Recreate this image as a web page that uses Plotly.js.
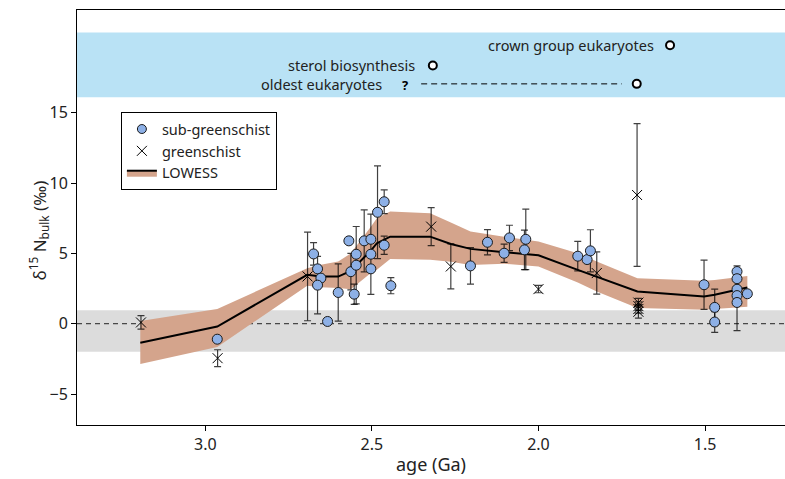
<!DOCTYPE html>
<html>
<head>
<meta charset="utf-8">
<script src="https://cdn.plot.ly/plotly-3.0.1.min.js"></script>
<style>html,body{margin:0;padding:0;background:#fff;}#chart{width:785px;height:479px;}</style>
</head>
<body>
<div id="chart"></div>
<script>
// sub-greenschist samples
const subAge = [2.964, 2.675, 2.663, 2.653, 2.663, 2.633, 2.601, 2.569, 2.563, 2.553, 2.547, 2.547, 2.523, 2.503, 2.503, 2.503, 2.483, 2.463, 2.463, 2.443, 2.204, 2.153, 2.103, 2.087, 2.038, 2.042, 1.882, 1.854, 1.844, 1.503, 1.471, 1.471, 1.404, 1.404, 1.404, 1.404, 1.404, 1.373];
const subVal = [-1.1, 4.96, 3.9, 3.24, 2.74, 0.16, 2.22, 5.89, 3.7, 2.1, 4.94, 4.16, 5.89, 6.0, 4.94, 3.9, 7.92, 8.67, 5.58, 2.7, 4.11, 5.79, 5.01, 6.1, 6.0, 5.25, 4.8, 4.56, 5.18, 2.77, 1.16, 0.12, 3.71, 3.2, 2.45, 2.0, 1.51, 2.13];
const subErr = [0, 0.8, 0, 0, 2.04, 0, 2.03, 0, 1.3, 0.72, 0, 2.75, 2.2, 0, 2.85, 0, 3.3, 0.85, 0.65, 0.57, 1.3, 0.9, 0.65, 0.9, 2.15, 1.4, 1.05, 0, 1.5, 1.75, 1.3, 0.74, 0.4, 0, 0, 0, 2.0, 0];

// greenschist samples
const grAge = [3.193, 2.963, 2.693, 2.322, 2.263, 2.0, 1.825, 1.704, 1.70, 1.70, 1.70, 1.70];
const grVal = [0.09, -2.45, 3.36, 6.9, 4.07, 2.46, 3.6, 9.15, 1.5, 1.25, 1.05, 0.85];
const grErr = [0.48, 0.6, 3.15, 1.35, 1.6, 0.26, 1.5, 5.08, 0.3, 0.3, 0.3, 0.45];

// LOWESS fit and band
const lowAge = [3.195, 2.964, 2.694, 2.653, 2.601, 2.563, 2.503, 2.485, 2.445, 2.325, 2.263, 2.204, 2.103, 2.0, 1.882, 1.825, 1.703, 1.503, 1.471, 1.404, 1.373];
const lowMid = [-1.35, -0.2, 3.48, 3.35, 3.35, 3.76, 5.2, 5.72, 6.19, 6.19, 5.67, 5.32, 5.08, 4.87, 3.83, 3.35, 2.29, 1.94, 2.06, 2.41, 2.57];
const lowHi  = [0.19, 1.04, 3.95, 4.2, 4.42, 5.0, 6.9, 7.5, 7.97, 7.85, 7.2, 6.55, 6.19, 5.84, 5.01, 4.42, 3.24, 3.05, 3.1, 3.3, 3.4];
const lowLo  = [-2.86, -1.65, 2.7, 2.6, 2.53, 2.45, 3.6, 3.83, 4.6, 4.54, 4.4, 4.18, 4.26, 4.07, 2.93, 2.29, 1.11, 1.0, 1.05, 1.15, 1.2];

// eukaryote milestones
const evLabels = ['crown group eukaryotes', 'sterol biosynthesis', 'oldest eukaryotes'];
const evAge = [1.605, 2.317, 1.705];
const evVal = [19.8, 18.35, 17.05];
const oldestRange = [2.352, 1.75];
const questionAge = 2.40;

const FONT = 'Noto Sans, Lato, sans-serif';
const BAND = '#d4a48c';

const traces = [
  {x: lowAge, y: lowHi, mode: 'lines', line: {width: 0, color: BAND}, showlegend: false, hoverinfo: 'skip'},
  {x: lowAge, y: lowLo, mode: 'lines', line: {width: 0, color: BAND}, fill: 'tonexty', fillcolor: BAND, showlegend: false, hoverinfo: 'skip'},
  {x: lowAge, y: lowMid, mode: 'lines', line: {color: '#000', width: 2}, showlegend: false},
  {x: grAge, y: grVal, mode: 'markers', name: 'greenschist',
   marker: {symbol: 'x-thin-open', size: 10, color: '#000', line: {width: 1, color: '#000'}},
   error_y: {type: 'data', array: grErr, visible: true, color: 'rgba(0,0,0,0.75)', thickness: 1.2, width: 3.5},
   showlegend: false},
  {x: subAge, y: subVal, mode: 'markers', name: 'sub-greenschist',
   marker: {symbol: 'circle', size: 10, color: '#8db0e6', line: {width: 1, color: '#1a1a1a'}},
   error_y: {type: 'data', array: subErr, visible: true, color: 'rgba(0,0,0,0.75)', thickness: 1.2, width: 3.5},
   showlegend: false},
  // legend-only entries
  {x: [null], y: [null], mode: 'markers', name: 'sub-greenschist',
   marker: {symbol: 'circle', size: 9, color: '#8db0e6', line: {width: 1, color: '#1a1a1a'}}},
  {x: [null], y: [null], mode: 'markers', name: 'greenschist',
   marker: {symbol: 'x-thin-open', size: 10, color: '#000', line: {width: 1, color: '#000'}}},
  {x: [null], y: [null], mode: 'lines', name: 'LOWESS', fill: 'toself', fillcolor: BAND,
   line: {color: '#000', width: 2}},
  // eukaryote milestones
  {x: oldestRange, y: [evVal[2], evVal[2]], mode: 'lines', line: {color: '#000', width: 1, dash: '6px,4px'}, showlegend: false},
  {x: evAge, y: evVal, mode: 'markers', showlegend: false,
   marker: {symbol: 'circle', size: 8, color: '#fff', line: {width: 2, color: '#000'}}}
];

const annotations = [
  {x: evAge[0], y: evVal[0], text: evLabels[0], xshift: -14, yshift: 0},
  {x: evAge[1], y: evVal[1], text: evLabels[1], xshift: -16, yshift: 1},
  {x: questionAge, y: evVal[2], text: evLabels[2], xshift: -21, yshift: 0}
].map(a => Object.assign(a, {xref: 'x', yref: 'y', showarrow: false, xanchor: 'right',
  font: {family: FONT, size: 14.5, color: '#222'}}));
annotations.push({x: questionAge, y: evVal[2], xref: 'x', yref: 'y', text: '<b>?</b>', showarrow: false,
  yshift: -1, font: {family: FONT, size: 13, color: '#000'}});
annotations.push({x: -0.075, y: 0.47, xref: 'paper', yref: 'paper', textangle: -90, showarrow: false,
  text: 'δ<sup>15</sup> N<sub>bulk</sub> (‰)', font: {family: FONT, size: 17, color: '#222'}});

const layout = {
  width: 785, height: 479,
  margin: {l: 77, r: 0, t: 10, b: 54},
  paper_bgcolor: '#fff', plot_bgcolor: '#fff',
  font: {family: FONT, size: 13, color: '#222'},
  showlegend: true,
  legend: {x: 0.062, y: 0.754, xanchor: 'left', yanchor: 'top', bgcolor: '#fff', traceorder: 'normal',
    bordercolor: '#000', borderwidth: 1, font: {family: FONT, size: 14.5, color: '#222'}, tracegroupgap: 0},
  xaxis: {
    range: [3.385, 1.26], tickvals: [3.0, 2.5, 2.0, 1.5], ticktext: ['3.0', '2.5', '2.0', '1.5'],
    ticks: 'outside', ticklen: 5, tickcolor: '#000', showline: true, linecolor: '#000', linewidth: 1,
    mirror: true, showgrid: false, zeroline: false,
    tickfont: {family: FONT, size: 16, color: '#222'},
    title: {text: 'age (Ga)', font: {family: FONT, size: 18, color: '#222'}, standoff: 4}
  },
  yaxis: {
    range: [-7.2, 22.3], tickvals: [-5, 0, 5, 10, 15],
    ticks: 'outside', ticklen: 5, tickcolor: '#000', showline: true, linecolor: '#000', linewidth: 1,
    mirror: true, showgrid: false, zeroline: false,
    tickfont: {family: FONT, size: 16, color: '#222'}
  },
  shapes: [
    {type: 'rect', xref: 'paper', yref: 'y', x0: 0, x1: 1, y0: 16.1, y1: 20.7, fillcolor: '#b9e2f5', line: {width: 0}, layer: 'below'},
    {type: 'rect', xref: 'paper', yref: 'y', x0: 0, x1: 1, y0: -2.0, y1: 0.95, fillcolor: '#dcdcdc', line: {width: 0}, layer: 'below'},
    {type: 'line', xref: 'paper', yref: 'y', x0: 0, x1: 1, y0: 0, y1: 0, line: {color: '#222', width: 1, dash: '5px,4px'}, layer: 'below'}
  ],
  annotations: annotations
};

Plotly.newPlot('chart', traces, layout, {displayModeBar: false, staticPlot: true});
</script>
</body>
</html>
